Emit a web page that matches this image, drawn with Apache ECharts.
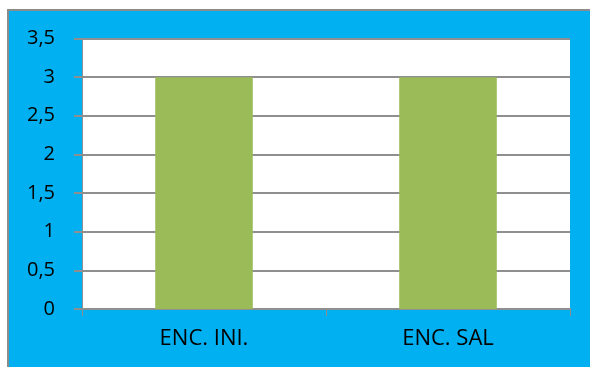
<!DOCTYPE html>
<html>
<head>
<meta charset="utf-8">
<script src="https://cdn.jsdelivr.net/npm/echarts@6/dist/echarts.min.js"></script>
<style>
html,body{margin:0;padding:0;background:#ffffff;width:590px;height:367px;overflow:hidden;}
#frame{position:absolute;left:7px;top:9px;width:583px;height:358px;box-sizing:border-box;border-left:2px solid #8c8c8c;border-top:2px solid #8c8c8c;background:#00B0F0;}
#chart{position:absolute;left:0;top:0;width:590px;height:367px;}
</style>
</head>
<body>
<div id="frame"></div>
<div id="chart"></div>
<script>
var categories = ['ENC. INI.', 'ENC. SAL'];
var values = [3, 3];
var yMin = 0, yMax = 3.5, yStep = 0.5;

var chart = echarts.init(document.getElementById('chart'), null, {renderer: 'canvas'});
chart.setOption({
  backgroundColor: 'transparent',
  animation: false,
  grid: {
    left: 82, top: 38.5, right: 20, bottom: 58,
    show: true, backgroundColor: '#ffffff', borderWidth: 0
  },
  xAxis: {
    type: 'category',
    data: categories,
    boundaryGap: true,
    axisLine: {show: true, lineStyle: {color: '#8f8f8f', width: 2}},
    axisTick: {show: true, length: 7, alignWithLabel: false, lineStyle: {color: '#8f8f8f', width: 1}},
    axisLabel: {margin: 19, color: '#000000', fontFamily: 'Open Sans', fontSize: 22}
  },
  yAxis: {
    type: 'value',
    min: yMin, max: yMax, interval: yStep,
    axisLine: {show: true, lineStyle: {color: '#8f8f8f', width: 1}},
    axisTick: {show: true, length: 8, lineStyle: {color: '#8f8f8f', width: 2}},
    splitLine: {show: true, lineStyle: {color: '#8f8f8f', width: 2}},
    axisLabel: {
      margin: 27, color: '#000000', fontFamily: 'Open Sans', fontSize: 20,
      formatter: function (v) { return String(v).replace('.', ','); }
    }
  },
  series: [{
    type: 'bar',
    data: values,
    barWidth: '40%',
    itemStyle: {color: '#9BBB59'}
  }]
});
</script>
</body>
</html>
